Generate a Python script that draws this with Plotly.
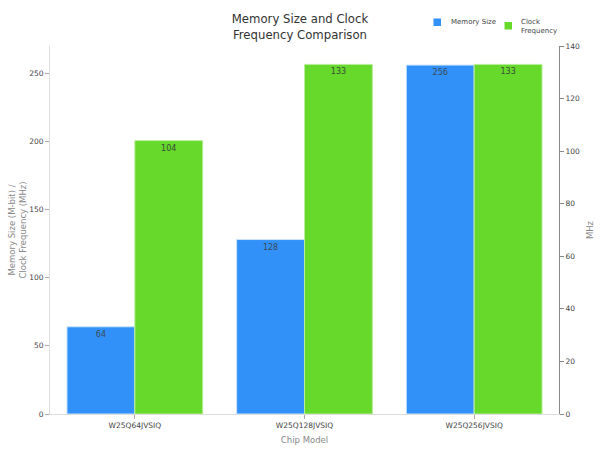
import plotly.graph_objects as go

chips = ["W25Q64JVSIQ", "W25Q128JVSIQ", "W25Q256JVSIQ"]
memory_mbit = [64, 128, 256]
clock_mhz = [104, 133, 133]

blue = "#3291F8"
green = "#66D92A"

fig = go.Figure()

fig.add_trace(go.Bar(
    x=chips, y=memory_mbit, name="Memory Size",
    marker=dict(color=blue, line=dict(color="#C9E3FD", width=1)),
    text=memory_mbit, textposition="inside", insidetextanchor="end",
    textfont=dict(color="#3a4a5a", size=8),
    offsetgroup=0, yaxis="y",
))
fig.add_trace(go.Bar(
    x=chips, y=clock_mhz, name="Clock<br>Frequency",
    marker=dict(color=green, line=dict(color="#B8EE9C", width=1)),
    text=clock_mhz, textposition="inside", insidetextanchor="end",
    textfont=dict(color="#3a4a3a", size=8),
    offsetgroup=1, yaxis="y2",
))

# legend drawn by hand (small squares, tight gap like the original)
fig.add_shape(type="rect", xref="paper", yref="paper", x0=0.7534, x1=0.7682,
              y0=1.0543, y1=1.0747, fillcolor=blue, line_width=0)
fig.add_shape(type="rect", xref="paper", yref="paper", x0=0.8930, x1=0.9077,
              y0=1.0448, y1=1.0652, fillcolor=green, line_width=0)
fig.add_annotation(text="Memory Size", xref="paper", yref="paper", x=0.7839, y=1.0652,
                   xanchor="left", yanchor="middle", showarrow=False,
                   font=dict(size=7, color="#444"))
fig.add_annotation(text="Clock<br>Frequency", xref="paper", yref="paper", x=0.9214, y=1.0543,
                   xanchor="left", yanchor="middle", align="left", showarrow=False,
                   font=dict(size=7, color="#444"))

fig.update_layout(
    width=600, height=450,
    margin=dict(t=46, b=36, l=50, r=41, pad=0, autoexpand=False),
    paper_bgcolor="white", plot_bgcolor="white",
    font=dict(family="DejaVu Sans", size=7.5, color="#444"),
    title=dict(text="Memory Size and Clock<br>Frequency Comparison",
               x=0.5, xanchor="center", y=0.948, yanchor="top",
               font=dict(size=11.7, color="#333")),
    barmode="group", bargap=0.2, bargroupgap=0,
    showlegend=False,
    xaxis=dict(showline=True, linecolor="#ddd", ticks="outside", tickcolor="#aaa",
               ticklen=4, showgrid=False, automargin=False,
               title=dict(text="Chip Model", font=dict(size=8.5, color="#888"), standoff=8)),
    yaxis=dict(range=[0, 270], tickvals=[0, 50, 100, 150, 200, 250], showline=True,
               linecolor="#ddd", ticks="outside", tickcolor="#aaa", ticklen=4,
               showgrid=False, zeroline=False, automargin=False,
               title=dict(text="Memory Size (M-bit) /<br>Clock Frequency (MHz)",
                          font=dict(size=8.5, color="#888"), standoff=1)),
    yaxis2=dict(range=[0, 140], dtick=20, overlaying="y", side="right",
                showline=True, linecolor="#888", ticks="outside", tickcolor="#888",
                ticklen=4, showgrid=False, zeroline=False, automargin=False,
                title=dict(text="MHz", font=dict(size=8.5, color="#888"), standoff=8)),
)

fig.write_html("out.html", config={"displayModeBar": False},
               post_script="document.body.style.margin='0';")
